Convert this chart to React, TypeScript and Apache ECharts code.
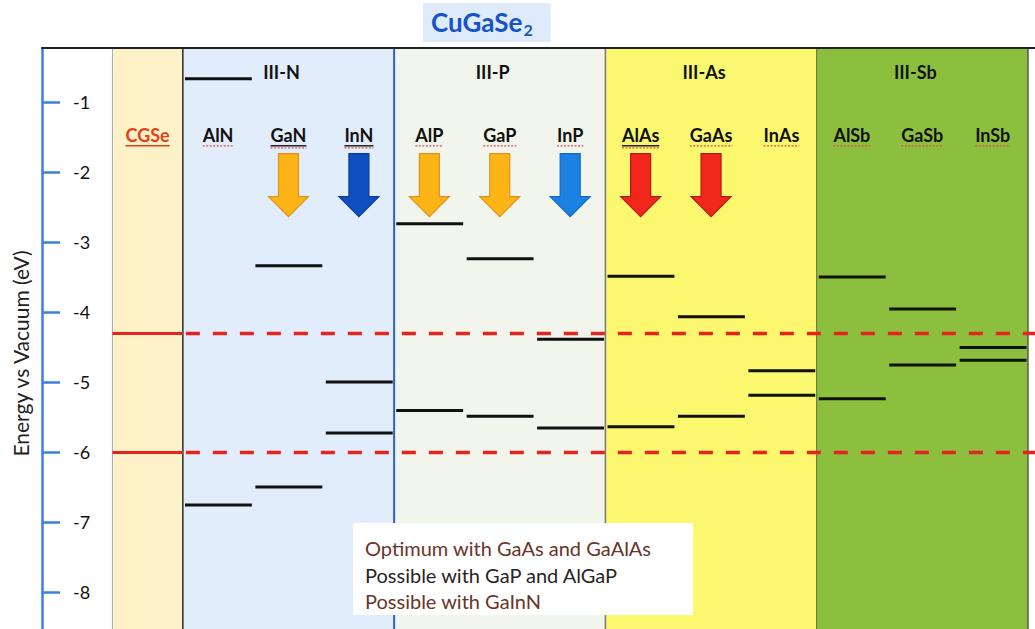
import React, { useEffect, useRef } from "react";
import * as echarts from "echarts";

// ---------- data ----------
const yTicks = [-1, -2, -3, -4, -5, -6, -7, -8];
const materials = ["AlN", "GaN", "InN", "AlP", "GaP", "InP", "AlAs", "GaAs", "InAs", "AlSb", "GaSb", "InSb"];
// conduction-band (upper) and valence-band (lower) levels, eV vs vacuum
const upperLevels = [-0.67, -3.34, -5.0, -2.74, -3.24, -4.39, -3.49, -4.07, -4.84, -3.5, -3.96, -4.51];
const lowerLevels = [-6.76, -6.5, -5.73, -5.41, -5.49, -5.66, -5.64, -5.49, -5.19, -5.24, -4.76, -4.69];
const groupNames = ["III-N", "III-P", "III-As", "III-Sb"];
const groupFirstMaterial = [0, 3, 6, 9];
const cgseName = "CGSe";
const cgseLevels = [-4.31, -6.01];
const arrowMaterials = ["GaN", "InN", "AlP", "GaP", "InP", "AlAs", "GaAs"];
const arrowKinds = ["orange", "navy", "orange", "orange", "blue", "red", "red"];
const noteLines = ["Optimum with GaAs and GaAlAs", "Possible with GaP and AlGaP", "Possible with GaInN"];
const titleMain = "CuGaSe";
const titleSub = "2";
const yAxisName = "Energy vs Vacuum (eV)";

// ---------- layout / style constants ----------
const Y_MIN = -8.53;
const Y_MAX = -0.23;
const X_MAX = 14.1;
const CGSE_COL = 1;
const FIRST_MAT_COL = 2;
const LABEL_Y = -1.47;
const GROUP_Y = -0.57;
const ARROW_TOP = -1.74;
const FONT = "Lato, 'Open Sans', sans-serif";
const RED = "#e4241f";

const PANEL_FILLS = ["#fdf1c8", "#e2edfb", "#f1f5eb", "#fbf76e", "#8dbf3e"];
const BORDER_COLORS = ["#a8a8a8", "#2a2a2a", "#2e62c0", "#7a7a7a", "#5f6f3c", "#55603a"];
const BORDER_WIDTHS = [1, 1.5, 2, 1.5, 1, 1.5];
const ARROW_STYLES: Record<string, { fill: string; stroke: string }> = {
  orange: { fill: "#fdb416", stroke: "#e38f1c" },
  navy: { fill: "#0e4fc2", stroke: "#0a3c98" },
  blue: { fill: "#1b82e4", stroke: "#1468c2" },
  red: { fill: "#f1271c", stroke: "#b31a12" },
};
const UNDERLINE: Record<string, string> = {
  CGSe: "solidRed", AlN: "squiggle", GaN: "black", InN: "black", AlP: "squiggle", GaP: "squiggle",
  InP: "squiggle", AlAs: "black", GaAs: "squiggle", InAs: "squiggle", AlSb: "squiggle", GaSb: "squiggle", InSb: "squiggle",
};
const LABEL_FONT_SIZE = 18;

let measureCtx: CanvasRenderingContext2D | null = null;
function textWidth(t: string, font: string) {
  if (!measureCtx) measureCtx = document.createElement("canvas").getContext("2d");
  if (!measureCtx) return t.length * 9;
  measureCtx.font = font;
  return measureCtx.measureText(t).width;
}

// derived tables
const groupSpans = groupFirstMaterial.map((f) => [f + FIRST_MAT_COL, f + FIRST_MAT_COL + 3]);
const panels = [[CGSE_COL, CGSE_COL + 1], ...groupSpans];
const borders = [CGSE_COL, ...groupSpans.map((s) => s[0]), groupSpans[groupSpans.length - 1][1]];
const levelData = materials.flatMap((_, i) => [
  [i + FIRST_MAT_COL, upperLevels[i]],
  [i + FIRST_MAT_COL, lowerLevels[i]],
]);
const labelNames = [cgseName, ...materials];
const labelData = labelNames.map((_, i) => [i === 0 ? CGSE_COL : i - 1 + FIRST_MAT_COL, i]);
const arrowData = arrowMaterials.map((m, k) => [materials.indexOf(m) + FIRST_MAT_COL, k]);

function buildOption(): any {
  const noteElements: any[] = [
    { type: "rect", x: 353, y: 523, z: 100, shape: { x: 0, y: 0, width: 340, height: 92 }, style: { fill: "#ffffff" } },
    ...noteLines.map((t, i) => ({
      type: "text",
      x: 365,
      y: 548 + i * 26.5,
      z: 101,
      style: {
        text: t,
        fontFamily: FONT,
        fontSize: 20,
        fill: i === 1 ? "#2a2424" : "#6a3428",
        verticalAlign: "middle",
      },
    })),
  ];
  return {
    animation: false,
    backgroundColor: "#ffffff",
    title: {
      text: `{m|${titleMain}}{sub|${titleSub}}`,
      left: 423,
      top: 3,
      backgroundColor: "#dfeafa",
      padding: [6, 18, 5, 8],
      textStyle: {
        fontFamily: FONT,
        fontWeight: "bold",
        fontSize: 26,
        color: "#1553c9",
        rich: {
          m: { fontFamily: FONT, fontWeight: "bold", fontSize: 26, color: "#1553c9", verticalAlign: "top", lineHeight: 26 },
          sub: { fontFamily: FONT, fontWeight: "bold", fontSize: 16, color: "#1553c9", verticalAlign: "bottom", lineHeight: 28, padding: [0, 0, 0, 1] },
        },
      },
    },
    grid: { left: 42, right: 0, top: 48, bottom: 0, containLabel: false, outerBoundsMode: "none" },
    xAxis: {
      type: "value",
      min: 0,
      max: X_MAX,
      position: "top",
      z: 6,
      axisLine: { show: true, onZero: false, lineStyle: { color: "#222", width: 2 } },
      axisTick: { show: false },
      axisLabel: { show: false },
      splitLine: { show: false },
    },
    yAxis: {
      type: "value",
      min: Y_MIN,
      max: Y_MAX,
      z: 6,
      name: yAxisName,
      nameLocation: "middle",
      nameGap: 11,
      nameTextStyle: { fontFamily: FONT, fontSize: 21, color: "#222", padding: [0, 30, 0, 0] },
      axisLine: { show: true, onZero: false, lineStyle: { color: "#3a82d6", width: 2.5 } },
      axisTick: { show: true, inside: true, length: 18, customValues: yTicks, lineStyle: { color: "#3a82d6", width: 2.5 } },
      axisLabel: {
        show: true,
        inside: true,
        margin: 31,
        customValues: yTicks,
        fontFamily: FONT,
        fontSize: 18,
        color: "#111",
        formatter: (v: number) => String(v),
      },
      splitLine: { show: false },
    },
    series: [
      {
        type: "custom",
        name: "panels",
        z: 1,
        silent: true,
        data: panels,
        renderItem: (params: any, api: any) => {
          const a = api.coord([api.value(0), Y_MAX]);
          const b = api.coord([api.value(1), Y_MIN]);
          return {
            type: "rect",
            shape: { x: a[0], y: a[1], width: b[0] - a[0], height: b[1] - a[1] },
            style: { fill: PANEL_FILLS[params.dataIndex] },
          };
        },
      },
      {
        type: "custom",
        name: "borders",
        z: 2,
        silent: true,
        data: borders.map((x) => [x, 0]),
        renderItem: (params: any, api: any) => {
          const a = api.coord([api.value(0), Y_MAX]);
          const b = api.coord([api.value(0), Y_MIN]);
          return {
            type: "line",
            shape: { x1: a[0], y1: a[1], x2: b[0], y2: b[1] },
            style: { stroke: BORDER_COLORS[params.dataIndex], lineWidth: BORDER_WIDTHS[params.dataIndex] },
          };
        },
      },
      {
        type: "custom",
        name: "levels",
        z: 3,
        silent: true,
        data: levelData,
        renderItem: (params: any, api: any) => {
          const col = api.value(0);
          const v = api.value(1);
          const a = api.coord([col + 0.03, v]);
          const b = api.coord([col + 0.98, v]);
          return {
            type: "line",
            shape: { x1: a[0], y1: a[1], x2: b[0], y2: b[1] },
            style: { stroke: "#111", lineWidth: 3 },
          };
        },
      },
      {
        type: "custom",
        name: "CGSe levels",
        z: 4,
        silent: true,
        data: cgseLevels.map((v) => [CGSE_COL, v]),
        renderItem: (params: any, api: any) => {
          const col = api.value(0);
          const v = api.value(1);
          const a = api.coord([col, v]);
          const b = api.coord([col + 1, v]);
          const c = api.coord([X_MAX, v]);
          return {
            type: "group",
            children: [
              { type: "line", shape: { x1: a[0], y1: a[1], x2: b[0], y2: b[1] }, style: { stroke: RED, lineWidth: 3 } },
              {
                type: "line",
                shape: { x1: b[0] + 3, y1: b[1], x2: c[0], y2: c[1] },
                style: { stroke: RED, lineWidth: 3.5, lineDash: [14, 13] },
              },
            ],
          };
        },
      },
      {
        type: "custom",
        name: "arrows",
        z: 4,
        silent: true,
        data: arrowData,
        renderItem: (params: any, api: any) => {
          const col = api.value(0);
          const kind = arrowKinds[params.dataIndex];
          const st = ARROW_STYLES[kind];
          const p = api.coord([col + 0.5, ARROW_TOP]);
          const cx = p[0];
          const y0 = p[1];
          const pts = [
            [cx - 10, y0],
            [cx + 10, y0],
            [cx + 10, y0 + 43],
            [cx + 20, y0 + 43],
            [cx, y0 + 63],
            [cx - 20, y0 + 43],
            [cx - 10, y0 + 43],
          ];
          return { type: "polygon", shape: { points: pts }, style: { fill: st.fill, stroke: st.stroke, lineWidth: 1.2 } };
        },
      },
      {
        type: "custom",
        name: "labels",
        z: 5,
        silent: true,
        data: labelData,
        renderItem: (params: any, api: any) => {
          const col = api.value(0);
          const name = labelNames[params.dataIndex];
          const p = api.coord([col + 0.5, LABEL_Y]);
          const isC = params.dataIndex === 0;
          const color = isC ? "#e0421c" : "#111";
          const w = textWidth(name, `bold ${LABEL_FONT_SIZE}px Lato`);
          const kind = UNDERLINE[name];
          const uy = p[1] + 11;
          const children: any[] = [
            {
              type: "text",
              x: p[0],
              y: p[1],
              style: { text: name, fontFamily: FONT, fontWeight: "bold", fontSize: LABEL_FONT_SIZE, fill: color, align: "center", verticalAlign: "middle" },
            },
          ];
          if (kind === "black" || kind === "solidRed") {
            children.push({
              type: "line",
              shape: { x1: p[0] - w / 2, y1: uy, x2: p[0] + w / 2, y2: uy },
              style: { stroke: kind === "black" ? "#222" : "#e0421c", lineWidth: 1.5 },
            });
          }
          if (kind === "squiggle" || kind === "black") {
            const dy = kind === "black" ? 2 : 0;
            children.push({
              type: "line",
              shape: { x1: p[0] - w / 2, y1: uy + dy, x2: p[0] + w / 2, y2: uy + dy },
              style: { stroke: "#e05050", lineWidth: 1.2, lineDash: [2, 1.5] },
            });
          }
          return { type: "group", children };
        },
      },
      {
        type: "custom",
        name: "group labels",
        z: 5,
        silent: true,
        data: groupSpans,
        renderItem: (params: any, api: any) => {
          const cx = (api.value(0) + api.value(1)) / 2;
          const p = api.coord([cx - 0.1, GROUP_Y]);
          return {
            type: "text",
            x: p[0],
            y: p[1],
            style: {
              text: groupNames[params.dataIndex],
              fontFamily: FONT,
              fontWeight: "bold",
              fontSize: 18,
              fill: "#111",
              align: "center",
              verticalAlign: "middle",
            },
          };
        },
      },
    ],
    graphic: { elements: noteElements },
  };
}

export default function App() {
  const ref = useRef<HTMLDivElement>(null);
  useEffect(() => {
    if (!ref.current) return;
    const chart = echarts.init(ref.current, undefined, { renderer: "svg" });
    chart.setOption(buildOption());
    return () => chart.dispose();
  }, []);
  return (
    <div
      ref={ref}
      style={{ position: "fixed", left: 0, top: 0, width: 1035, height: 629, background: "#fff" }}
    />
  );
}
